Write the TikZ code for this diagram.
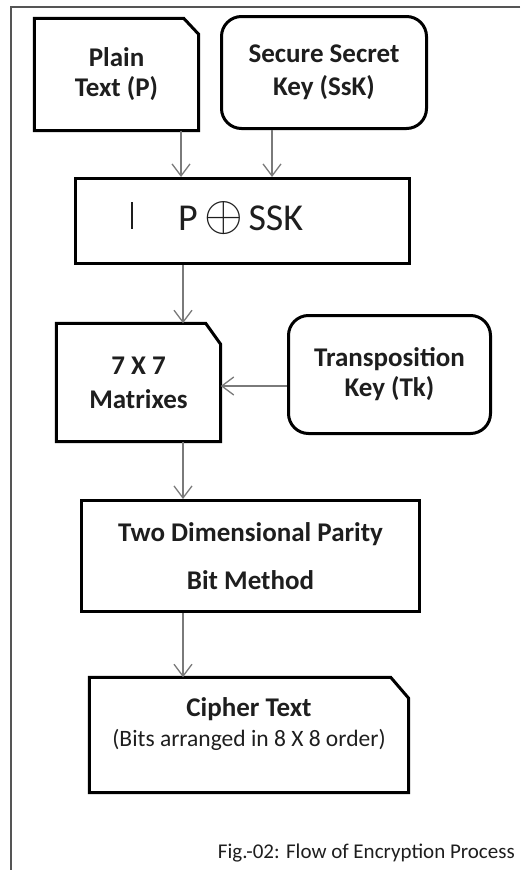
\documentclass[tikz,border=0pt]{standalone}
\usepackage{fontspec}
\setmainfont{Carlito}
\usetikzlibrary{arrows.meta}
\definecolor{ink}{HTML}{1E1E1E}
\definecolor{wire}{HTML}{7A7A7A}
\definecolor{frame}{HTML}{555555}
\tikzset{
  edge/.style={draw=black, line width=3pt},
  box/.style={rectangle, inner sep=0pt, align=center,
    text=ink, font=\bfseries\fontsize{27}{30}\selectfont},
  roundbox/.style={box, edge, rounded corners=20pt},
  plainbox/.style={box, edge},
  arr/.style={draw=wire, line width=1.3pt,
    -{Straight Barb[length=12pt,width=18pt,line width=1.3pt]}},
}
% outline of a box whose upper right corner is cut off
\newcommand\cutcorner[3]{%
  \draw[edge] (#1.north west) -- ([xshift=-#2]#1.north east)
    -- ([yshift=-#3]#1.north east) -- (#1.south east) -- (#1.south west) -- cycle;}
\begin{document}
\begin{tikzpicture}[x=1pt,y=-1pt]
  \useasboundingbox (0,0) rectangle (520,870);
  % page frame (top and left edges)
  \draw[frame, line width=1.4pt] (520,7) -- (11,7) -- (11,870);

  % boxes
  \node[box, minimum width=164pt, minimum height=112pt] (plain) at (116.5,74.5)
        {Plain\\Text (P)};
  \cutcorner{plain}{15pt}{16pt}
  \node[roundbox, minimum width=205pt, minimum height=112pt] (ssk) at (324,72.5)
        {Secure Secret\\[3pt]Key (SsK)};
  \node[plainbox, minimum width=334pt, minimum height=85pt] (xor) at (242.5,221) {};
  \node[anchor=base west, inner sep=0pt, text=ink, font=\fontsize{38}{40}\selectfont]
        (xortext) at (178,230)
        {P\hspace{7pt}\raisebox{0pt}{\scalebox{2}{$\oplus$}}\hspace{5pt}SSK};
  \draw[ink, line width=1.2pt] (132,202) coordinate (c1) -- (132,229) coordinate (c2);
  \node[box, minimum width=164pt, minimum height=118pt] (mat) at (138.5,382.5)
        {7 X 7\\[4pt]Matrixes};
  \cutcorner{mat}{15pt}{21pt}
  \node[roundbox, minimum width=202pt, minimum height=118pt] (tk) at (389.5,374.5)
        {Transposition\\Key (Tk)};
  \node[plainbox, minimum width=338pt, minimum height=111pt] (two) at (250.5,556)
        {Two Dimensional Parity\\[18pt]Bit Method};
  \node[box, minimum width=319pt, minimum height=115pt] (ciph) at (249,735) {};
  \cutcorner{ciph}{18pt}{21pt}
  \node[box] (ciphtext) at (249,724)
        {Cipher Text\\{\mdseries\fontsize{23.5}{29}\selectfont (Bits arranged in 8 X 8 order)}};

  % caption
  \node[anchor=base east, inner sep=0pt, text=ink, font=\fontsize{21}{26}\selectfont]
        (cap) at (515,858) {Fig.-02: Flow of Encryption Process};

  % connectors
  \coordinate (xa) at (181,0);
  \coordinate (xb) at (272,0);
  \coordinate (xc) at (183,0);
  \coordinate (ya) at (0,386);
  \draw[arr] (plain.south -| xa) -- (xor.north -| xa);
  \draw[arr] (ssk.south -| xb) -- (xor.north -| xb);
  \draw[arr] (xor.south -| xc) -- (mat.north -| xc);
  \draw[arr] (tk.west |- ya) -- (mat.east |- ya);
  \draw[arr] (mat.south -| xc) -- (two.north -| xc);
  \draw[arr] (two.south -| xc) -- (ciph.north -| xc);
\end{tikzpicture}
\end{document}
